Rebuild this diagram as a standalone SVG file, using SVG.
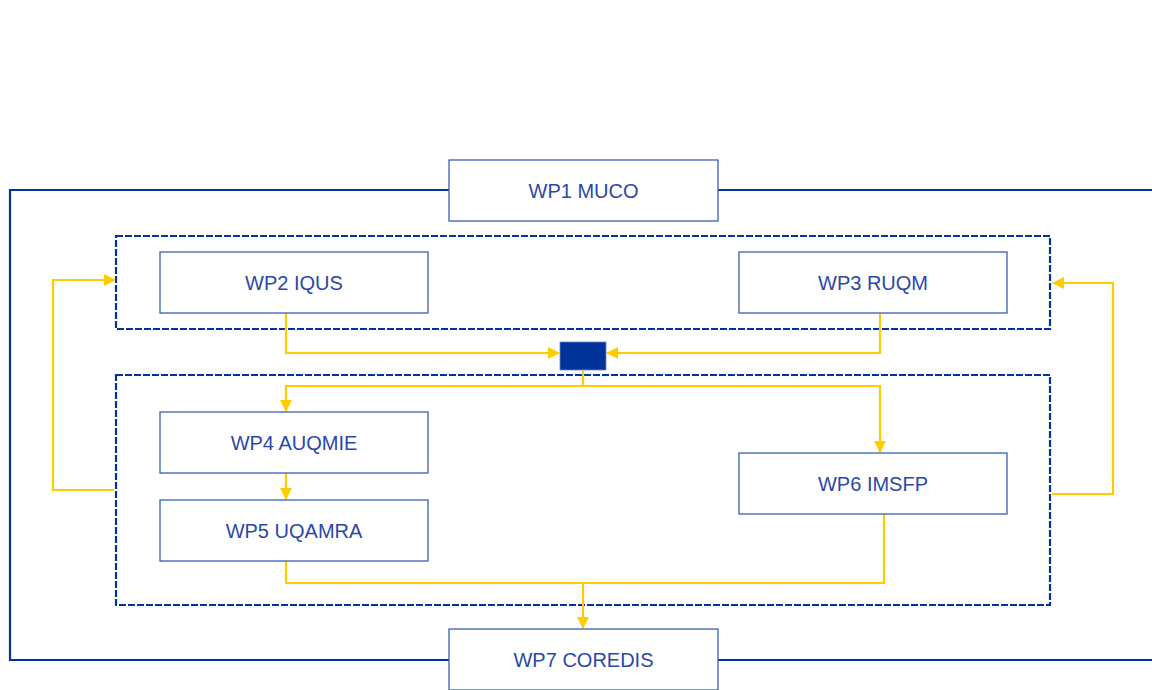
<svg xmlns="http://www.w3.org/2000/svg" width="1152" height="690" viewBox="0 0 1152 690">
<style>
.frame{fill:none;stroke:#0033a0;stroke-width:2.2}
.dash{fill:none;stroke:#0033a0;stroke-width:2.2;stroke-dasharray:7 2}
.node rect{fill:#fff;stroke:#3a5fb5;stroke-width:1.3}
.node text{font-family:"Liberation Sans",Arial,sans-serif;font-size:20px;fill:#2a48a8;text-anchor:middle}
.y{fill:none;stroke:#ffcc00;stroke-width:2.2}
</style>
<defs>
<marker id="ah" markerWidth="12" markerHeight="12" refX="11" refY="6" orient="auto" markerUnits="userSpaceOnUse"><path d="M0,0 L12,6 L0,12 Z" fill="#ffcc00"/></marker>
</defs>
<rect width="1152" height="690" fill="#fff"/>
<g id="frames">
<path class="frame" d="M1152,190 L718,190 M449,190 L10,190 L10,660 L449,660 M718,660 L1152,660"/>
<rect class="dash" x="116" y="236" width="934" height="93"/>
<rect class="dash" x="116" y="375" width="934" height="230"/>
</g>
<g id="connectors">
<path class="y" d="M286,313 V353 H559" marker-end="url(#ah)"/>
<path class="y" d="M880,313 V353 H607" marker-end="url(#ah)"/>
<path class="y" d="M583,371 V386"/>
<path class="y" d="M583,386 H286 V411" marker-end="url(#ah)"/>
<path class="y" d="M583,386 H880 V452" marker-end="url(#ah)"/>
<path class="y" d="M286,473 V499" marker-end="url(#ah)"/>
<path class="y" d="M286,561 V583 H884 V514"/>
<path class="y" d="M583,583 V628" marker-end="url(#ah)"/>
<path class="y" d="M114,490 H53 V280 H115" marker-end="url(#ah)"/>
<path class="y" d="M1052,494 H1113 V283 H1053" marker-end="url(#ah)"/>
</g>
<g id="hub"><rect x="560" y="342" width="46" height="28" fill="#003399" stroke="#6b86c8" stroke-width="0.8"/></g>
<g id="wp1" class="node"><rect x="449" y="160" width="269" height="61"/><text x="583.5" y="198">WP1 MUCO</text></g>
<g id="wp2" class="node"><rect x="160" y="252" width="268" height="61"/><text x="294" y="289.5">WP2 IQUS</text></g>
<g id="wp3" class="node"><rect x="739" y="252" width="268" height="61"/><text x="873" y="289.5">WP3 RUQM</text></g>
<g id="wp4" class="node"><rect x="160" y="412" width="268" height="61"/><text x="294" y="449.5">WP4 AUQMIE</text></g>
<g id="wp5" class="node"><rect x="160" y="500" width="268" height="61"/><text x="294" y="537.5">WP5 UQAMRA</text></g>
<g id="wp6" class="node"><rect x="739" y="453" width="268" height="61"/><text x="873" y="490.5">WP6 IMSFP</text></g>
<g id="wp7" class="node"><rect x="449" y="629" width="269" height="61"/><text x="583.5" y="667">WP7 COREDIS</text></g>
</svg>
